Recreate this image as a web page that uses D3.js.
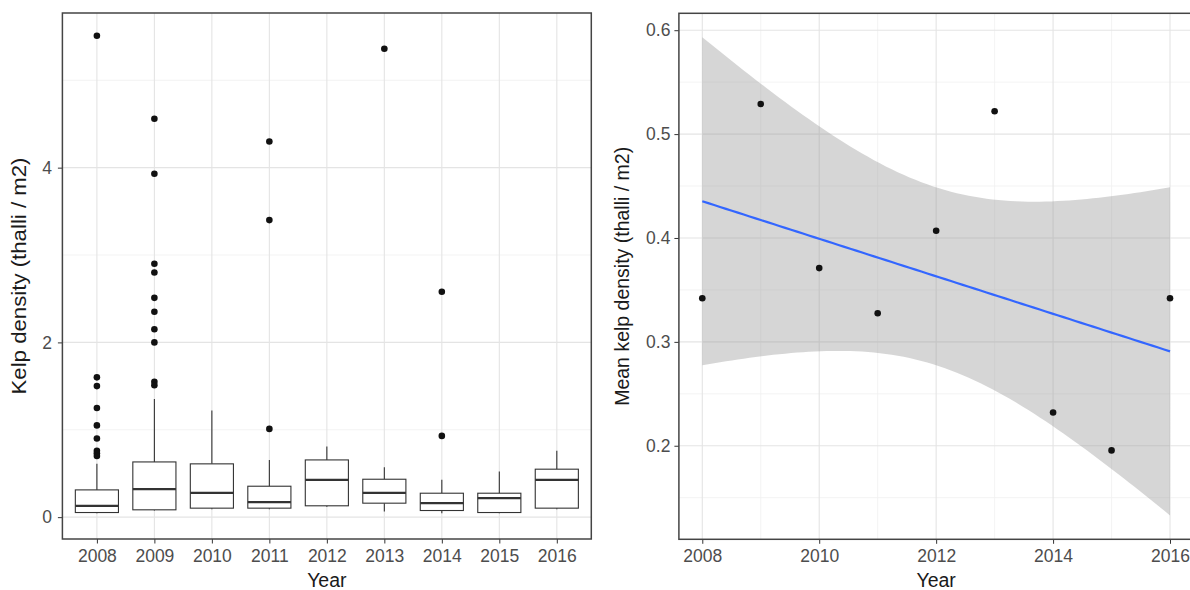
<!DOCTYPE html>
<html>
<head>
    <title>Kelp density by year</title>
    <script src="https://cdnjs.cloudflare.com/ajax/libs/d3/7.8.5/d3.min.js"></script>
    <style>
        body {
            margin: 0;
            background: white;
            font-family: "Liberation Sans", Arial, sans-serif;
        }
        .tick text {
            font-family: "Liberation Sans", Arial, sans-serif;
            font-size: 17.5px;
            fill: #4d4d4d;
        }
        .tick line {
            stroke: #333;
        }
        .title {
            font-family: "Liberation Sans", Arial, sans-serif;
            font-size: 19.5px;
            fill: #1a1a1a;
        }
    </style>
</head>
<body>
    <svg id="chart" width="1190" height="590"></svg>

    <script>
        // Datos: diagrama de cajas por año (densidad de kelp, thalli / m2)
        const years = [2008, 2009, 2010, 2011, 2012, 2013, 2014, 2015, 2016];
        const whiskerLow = [0.046, 0.076, 0.09, 0.09, 0.12, 0.065, 0.046, 0.046, 0.09];
        const boxQ1 = [0.053, 0.084, 0.103, 0.103, 0.13, 0.16, 0.076, 0.053, 0.103];
        const boxMedian = [0.13, 0.32, 0.278, 0.171, 0.427, 0.278, 0.16, 0.217, 0.427];
        const boxQ3 = [0.312, 0.632, 0.61, 0.354, 0.655, 0.434, 0.274, 0.274, 0.549];
        const whiskerHigh = [0.61, 1.352, 1.22, 0.655, 0.81, 0.57, 0.427, 0.522, 0.76];
        const outliers = [
            [5.51, 1.6, 1.5, 1.25, 1.05, 0.9, 0.76, 0.73, 0.7],
            [4.56, 3.93, 2.9, 2.8, 2.51, 2.35, 2.15, 2.0, 1.55, 1.51],
            [],
            [4.3, 3.4, 1.01],
            [],
            [5.36],
            [2.58, 0.93],
            [],
            []
        ];
        const leftYTicks = [0, 2, 4];
        const leftYMinor = [1, 3, 5];

        // Datos: densidad media por año
        const meanDensity = [0.342, 0.529, 0.371, 0.3275, 0.407, 0.522, 0.232, 0.1955, 0.342];
        const rightXTicks = [2008, 2010, 2012, 2014, 2016];
        const rightXMinor = [2009, 2011, 2013, 2015];
        const rightYTicks = [0.2, 0.3, 0.4, 0.5, 0.6];
        const rightYMinor = [0.15, 0.25, 0.35, 0.45, 0.55];
        const tCrit = 2.364624; // qt(0.975, df = 7)

        const svg = d3.select("#chart");

        // Paneles
        const left = {x0: 62.4, x1: 591.3, y0: 13, y1: 539};
        const right = {x0: 678.9, x1: 1193.4, y0: 13.3, y1: 539.3};

        function gridLines(g, values, scale, panel, horizontal, color, w) {
            g.selectAll(null)
                .data(values)
                .enter().append("line")
                .attr("x1", d => horizontal ? panel.x0 : scale(d))
                .attr("x2", d => horizontal ? panel.x1 : scale(d))
                .attr("y1", d => horizontal ? scale(d) : panel.y0)
                .attr("y2", d => horizontal ? scale(d) : panel.y1)
                .attr("stroke", color)
                .attr("stroke-width", w);
        }

        // ---------- Panel izquierdo: boxplot ----------
        const xL = d3.scalePoint()
            .domain(years)
            .range([left.x0, left.x1])
            .padding(0.6);

        const yL = d3.scaleLinear()
            .domain([-0.25, 5.77])
            .range([left.y1, left.y0]);

        const gL = svg.append("g");
        gridLines(gL, leftYMinor, yL, left, true, "#f0f0f0", 0.8);
        gridLines(gL, leftYTicks, yL, left, true, "#e4e4e4", 1.1);
        gridLines(gL, years, xL, left, false, "#e4e4e4", 1.1);

        const boxW = xL.step() * 0.75;
        const boxes = gL.selectAll(".box")
            .data(years)
            .enter().append("g")
            .attr("class", "box");

        boxes.append("line")
            .attr("x1", d => xL(d)).attr("x2", d => xL(d))
            .attr("y1", (d, i) => yL(boxQ3[i]))
            .attr("y2", (d, i) => yL(whiskerHigh[i]))
            .attr("stroke", "#333").attr("stroke-width", 1.1);

        boxes.append("line")
            .attr("x1", d => xL(d)).attr("x2", d => xL(d))
            .attr("y1", (d, i) => yL(boxQ1[i]))
            .attr("y2", (d, i) => yL(whiskerLow[i]))
            .attr("stroke", "#333").attr("stroke-width", 1.1);

        boxes.append("rect")
            .attr("x", d => xL(d) - boxW / 2)
            .attr("width", boxW)
            .attr("y", (d, i) => yL(boxQ3[i]))
            .attr("height", (d, i) => yL(boxQ1[i]) - yL(boxQ3[i]))
            .attr("fill", "white")
            .attr("stroke", "#333")
            .attr("stroke-width", 1.1);

        boxes.append("line")
            .attr("x1", d => xL(d) - boxW / 2)
            .attr("x2", d => xL(d) + boxW / 2)
            .attr("y1", (d, i) => yL(boxMedian[i]))
            .attr("y2", (d, i) => yL(boxMedian[i]))
            .attr("stroke", "#333").attr("stroke-width", 2.2);

        boxes.selectAll("circle")
            .data((d, i) => outliers[i].map(v => ({year: d, v})))
            .enter().append("circle")
            .attr("cx", d => xL(d.year))
            .attr("cy", d => yL(d.v))
            .attr("r", 3.3)
            .attr("fill", "#111");

        gL.append("g")
            .attr("transform", `translate(${left.x0},0)`)
            .call(d3.axisLeft(yL).tickValues(leftYTicks).tickSize(4.5).tickPadding(6).tickFormat(d3.format("d")))
            .call(g => g.select(".domain").remove());

        gL.append("g")
            .attr("transform", `translate(0,${left.y1})`)
            .call(d3.axisBottom(xL).tickSize(4.5).tickPadding(6).tickFormat(d3.format("d")))
            .call(g => g.select(".domain").remove());

        gL.append("rect")
            .attr("x", left.x0).attr("y", left.y0)
            .attr("width", left.x1 - left.x0)
            .attr("height", left.y1 - left.y0)
            .attr("fill", "none")
            .attr("stroke", "#444")
            .attr("stroke-width", 1.5);

        gL.append("text")
            .attr("class", "title")
            .attr("x", (left.x0 + left.x1) / 2)
            .attr("y", 586.5)
            .attr("text-anchor", "middle")
            .text("Year");

        gL.append("text")
            .attr("class", "title")
            .attr("transform", `translate(26,${(left.y0 + left.y1) / 2}) rotate(-90)`)
            .attr("text-anchor", "middle")
            .attr("textLength", 237)
            .attr("lengthAdjust", "spacingAndGlyphs")
            .text("Kelp density (thalli / m2)");

        // ---------- Panel derecho: media + ajuste lineal ----------
        const n = years.length;
        const xbar = d3.mean(years);
        const ybar = d3.mean(meanDensity);
        const sxx = d3.sum(years, x => (x - xbar) ** 2);
        const sxy = d3.sum(years, (x, i) => (x - xbar) * (meanDensity[i] - ybar));
        const slope = sxy / sxx;
        const intercept = ybar - slope * xbar;
        const fit = x => intercept + slope * x;
        const sigma = Math.sqrt(d3.sum(years, (x, i) => (meanDensity[i] - fit(x)) ** 2) / (n - 2));

        const band = d3.range(80).map(k => {
            const x = years[0] + (years[n - 1] - years[0]) * k / 79;
            const se = sigma * Math.sqrt(1 / n + (x - xbar) ** 2 / sxx);
            return {x, y: fit(x), lo: fit(x) - tCrit * se, hi: fit(x) + tCrit * se};
        });

        const yMin = d3.min(band, d => d.lo), yMax = d3.max(band, d => d.hi);
        const yPad = (yMax - yMin) * 0.05;
        const xPad = (years[n - 1] - years[0]) * 0.05;

        const xR = d3.scaleLinear()
            .domain([years[0] - xPad, years[n - 1] + xPad])
            .range([right.x0, right.x1]);

        const yR = d3.scaleLinear()
            .domain([yMin - yPad, yMax + yPad])
            .range([right.y1, right.y0]);

        const gR = svg.append("g");
        gridLines(gR, rightYMinor, yR, right, true, "#f0f0f0", 0.8);
        gridLines(gR, rightXMinor, xR, right, false, "#f0f0f0", 0.8);
        gridLines(gR, rightYTicks, yR, right, true, "#e4e4e4", 1.1);
        gridLines(gR, rightXTicks, xR, right, false, "#e4e4e4", 1.1);

        gR.append("path")
            .datum(band)
            .attr("fill", "#999")
            .attr("fill-opacity", 0.4)
            .attr("d", d3.area().x(d => xR(d.x)).y0(d => yR(d.lo)).y1(d => yR(d.hi)));

        gR.append("path")
            .datum(band)
            .attr("fill", "none")
            .attr("stroke", "#3366FF")
            .attr("stroke-width", 2.2)
            .attr("d", d3.line().x(d => xR(d.x)).y(d => yR(d.y)));

        gR.selectAll(".pt")
            .data(years)
            .enter().append("circle")
            .attr("class", "pt")
            .attr("cx", d => xR(d))
            .attr("cy", (d, i) => yR(meanDensity[i]))
            .attr("r", 3.3)
            .attr("fill", "#111");

        gR.append("g")
            .attr("transform", `translate(${right.x0},0)`)
            .call(d3.axisLeft(yR).tickValues(rightYTicks).tickSize(4.5).tickPadding(4).tickFormat(d3.format(".1f")))
            .call(g => g.select(".domain").remove());

        gR.append("g")
            .attr("transform", `translate(0,${right.y1})`)
            .call(d3.axisBottom(xR).tickValues(rightXTicks).tickSize(4.5).tickPadding(6).tickFormat(d3.format("d")))
            .call(g => g.select(".domain").remove());

        gR.append("rect")
            .attr("x", right.x0).attr("y", right.y0)
            .attr("width", right.x1 - right.x0)
            .attr("height", right.y1 - right.y0)
            .attr("fill", "none")
            .attr("stroke", "#444")
            .attr("stroke-width", 1.5);

        gR.append("text")
            .attr("class", "title")
            .attr("x", (right.x0 + right.x1) / 2)
            .attr("y", 586.5)
            .attr("text-anchor", "middle")
            .text("Year");

        gR.append("text")
            .attr("class", "title")
            .attr("transform", `translate(629,${(right.y0 + right.y1) / 2}) rotate(-90)`)
            .attr("text-anchor", "middle")
            .text("Mean kelp density (thalli / m2)");
    </script>
</body>
</html>
